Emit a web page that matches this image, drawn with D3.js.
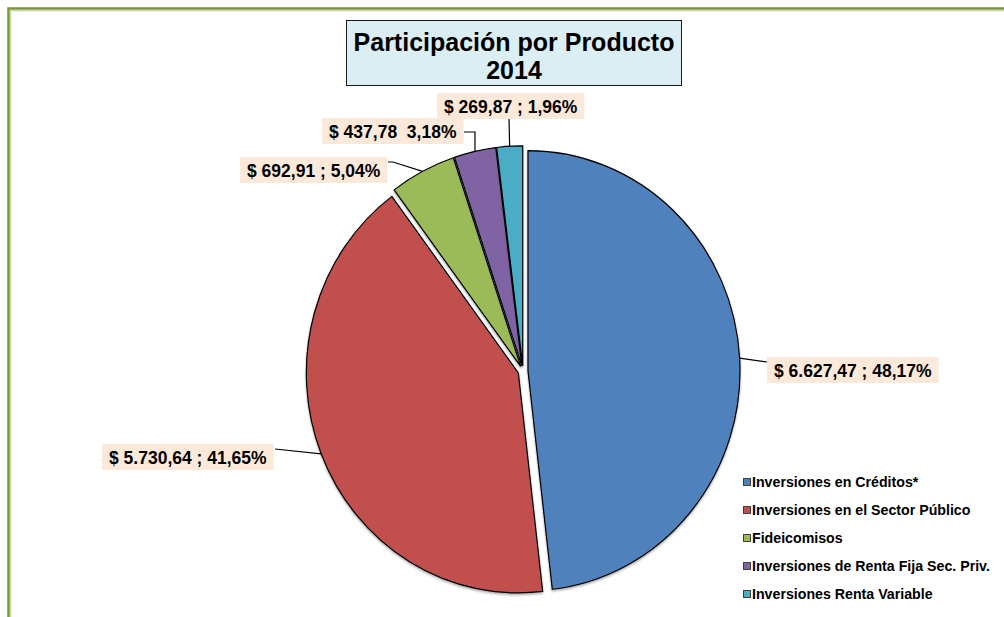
<!DOCTYPE html>
<html>
<head>
<meta charset="utf-8">
<script src="https://cdn.jsdelivr.net/npm/d3@7"></script>
<style>
  body { margin: 0; background: #fff; }
  text { font-family: "Liberation Sans", Arial, sans-serif; font-weight: bold; fill: #000; white-space: pre; }
</style>
</head>
<body>
<div id="chart"></div>
<script>
/**
 * DATA
 * */
const categories = [
  "Inversiones en Créditos*",
  "Inversiones en el Sector Público",
  "Fideicomisos",
  "Inversiones de Renta Fija Sec. Priv.",
  "Inversiones Renta Variable"
];
const values = [6627.47, 5730.64, 692.91, 437.78, 269.87];
const shares = [48.17, 41.65, 5.04, 3.18, 1.96];
const separators = [" ; ", " ; ", " ; ", "  ", " ; "];
const colors = ["#4f81bd", "#c0504d", "#9bbb59", "#8064a2", "#4bacc6"];
const titleLines = ["Participación por Producto", "2014"];

/**
 * LAYOUT
 * */
const width = 1004, height = 617;
const cx = 523, cy = 371, rx = 212, ry = 220, explode = 5;
// label boxes (left, top) and the leader bend points
const labelBoxes = [
  { x: 767, y: 357, end: [767, 362], bend: null },
  { x: 102, y: 444, end: [275, 449], bend: null },
  { x: 240, y: 157, end: [388, 162], bend: [393, 162] },
  { x: 322, y: 118, end: [464, 132], bend: [475, 132] },
  { x: 437, y: 93,  end: [509, 118], bend: null }
];

const es = d3.formatLocale({ decimal: ",", thousands: ".", grouping: [3], currency: ["$", ""] });
const fmtVal = es.format(",.2f");
const fmtPct = es.format(".2f");

const svg = d3.select("#chart").append("svg")
  .attr("width", width)
  .attr("height", height);

// outer green frame (runs off the right and bottom edges)
svg.append("rect")
  .attr("x", 8.5).attr("y", 8.5)
  .attr("width", 1020).attr("height", 640)
  .attr("fill", "none")
  .attr("stroke", "#77933c")
  .attr("stroke-width", 2.5);
svg.append("rect")
  .attr("x", 10.5).attr("y", 10.5)
  .attr("width", 1020).attr("height", 640)
  .attr("fill", "none")
  .attr("stroke", "#c3d69b")
  .attr("stroke-width", 1.5);

// title box
const title = svg.append("g");
title.append("rect")
  .attr("x", 346.5).attr("y", 20.5)
  .attr("width", 335).attr("height", 65)
  .attr("fill", "#dbeef4")
  .attr("stroke", "#1a1a1a")
  .attr("stroke-width", 1);
title.selectAll("text")
  .data(titleLines)
  .join("text")
  .attr("x", 514)
  .attr("y", (d, i) => 51 + i * 28)
  .attr("text-anchor", "middle")
  .style("font-size", "25px")
  .text(d => d);

// pie
const pie = d3.pie().sort(null).value(d => d);
const arcs = pie(values);
const arc = d3.arc().innerRadius(0).outerRadius(rx);
const ky = ry / rx;

const defs = svg.append("defs");
const shadow = defs.append("filter").attr("id", "shadow")
  .attr("x", "-10%").attr("y", "-10%").attr("width", "120%").attr("height", "120%");
shadow.append("feDropShadow")
  .attr("dx", 0).attr("dy", 1.5).attr("stdDeviation", 1.2)
  .attr("flood-color", "#000").attr("flood-opacity", 0.35);

const pieG = svg.append("g")
  .attr("transform", `translate(${cx},${cy}) scale(1,${ky})`);

pieG.selectAll("path")
  .data(arcs)
  .join("path")
  .attr("d", arc)
  .attr("transform", d => {
    const m = (d.startAngle + d.endAngle) / 2;
    return `translate(${explode * Math.sin(m)},${-explode * Math.cos(m)})`;
  })
  .attr("fill", (d, i) => colors[i])
  .attr("stroke", "#000")
  .attr("stroke-width", 1.2)
  .attr("vector-effect", "non-scaling-stroke")
  .attr("filter", "url(#shadow)");

// leaders
function edgePoint(d) {
  const m = (d.startAngle + d.endAngle) / 2;
  return [cx + (rx + explode) * Math.sin(m), cy - (ry + explode * ky) * Math.cos(m)];
}

svg.selectAll("polyline.leader")
  .data(arcs)
  .join("polyline")
  .attr("class", "leader")
  .attr("fill", "none")
  .attr("stroke", "#000")
  .attr("stroke-width", 1.2)
  .attr("points", (d, i) => {
    const b = labelBoxes[i];
    const pts = [edgePoint(d)];
    if (b.bend) pts.push(b.bend);
    pts.push(b.end);
    return pts.map(p => p.join(",")).join(" ");
  });

// data labels
const labels = svg.selectAll("g.label")
  .data(arcs)
  .join("g")
  .attr("class", "label");

labels.each(function(d, i) {
  const g = d3.select(this);
  const b = labelBoxes[i];
  const rect = g.append("rect").attr("fill", "#fde9d9");
  const t = g.append("text")
    .attr("x", b.x + 7)
    .attr("y", b.y + 20)
    .style("font-size", "17.5px")
    .text("$ " + fmtVal(values[i]) + separators[i] + fmtPct(shares[i]) + "%");
  const w = t.node().getComputedTextLength();
  rect.attr("x", b.x).attr("y", b.y)
    .attr("width", w + 14).attr("height", 26);
});

// legend
const legend = svg.selectAll("g.legend")
  .data(categories)
  .join("g")
  .attr("class", "legend")
  .attr("transform", (d, i) => `translate(743,${482 + i * 28})`);
legend.append("rect")
  .attr("x", 0.5).attr("y", -3.5)
  .attr("width", 7).attr("height", 7)
  .attr("fill", (d, i) => colors[i])
  .attr("stroke", "#404040")
  .attr("stroke-width", 1);
legend.append("text")
  .attr("x", 9)
  .attr("y", 5)
  .style("font-size", "14.2px")
  .text(d => d);
</script>
</body>
</html>
